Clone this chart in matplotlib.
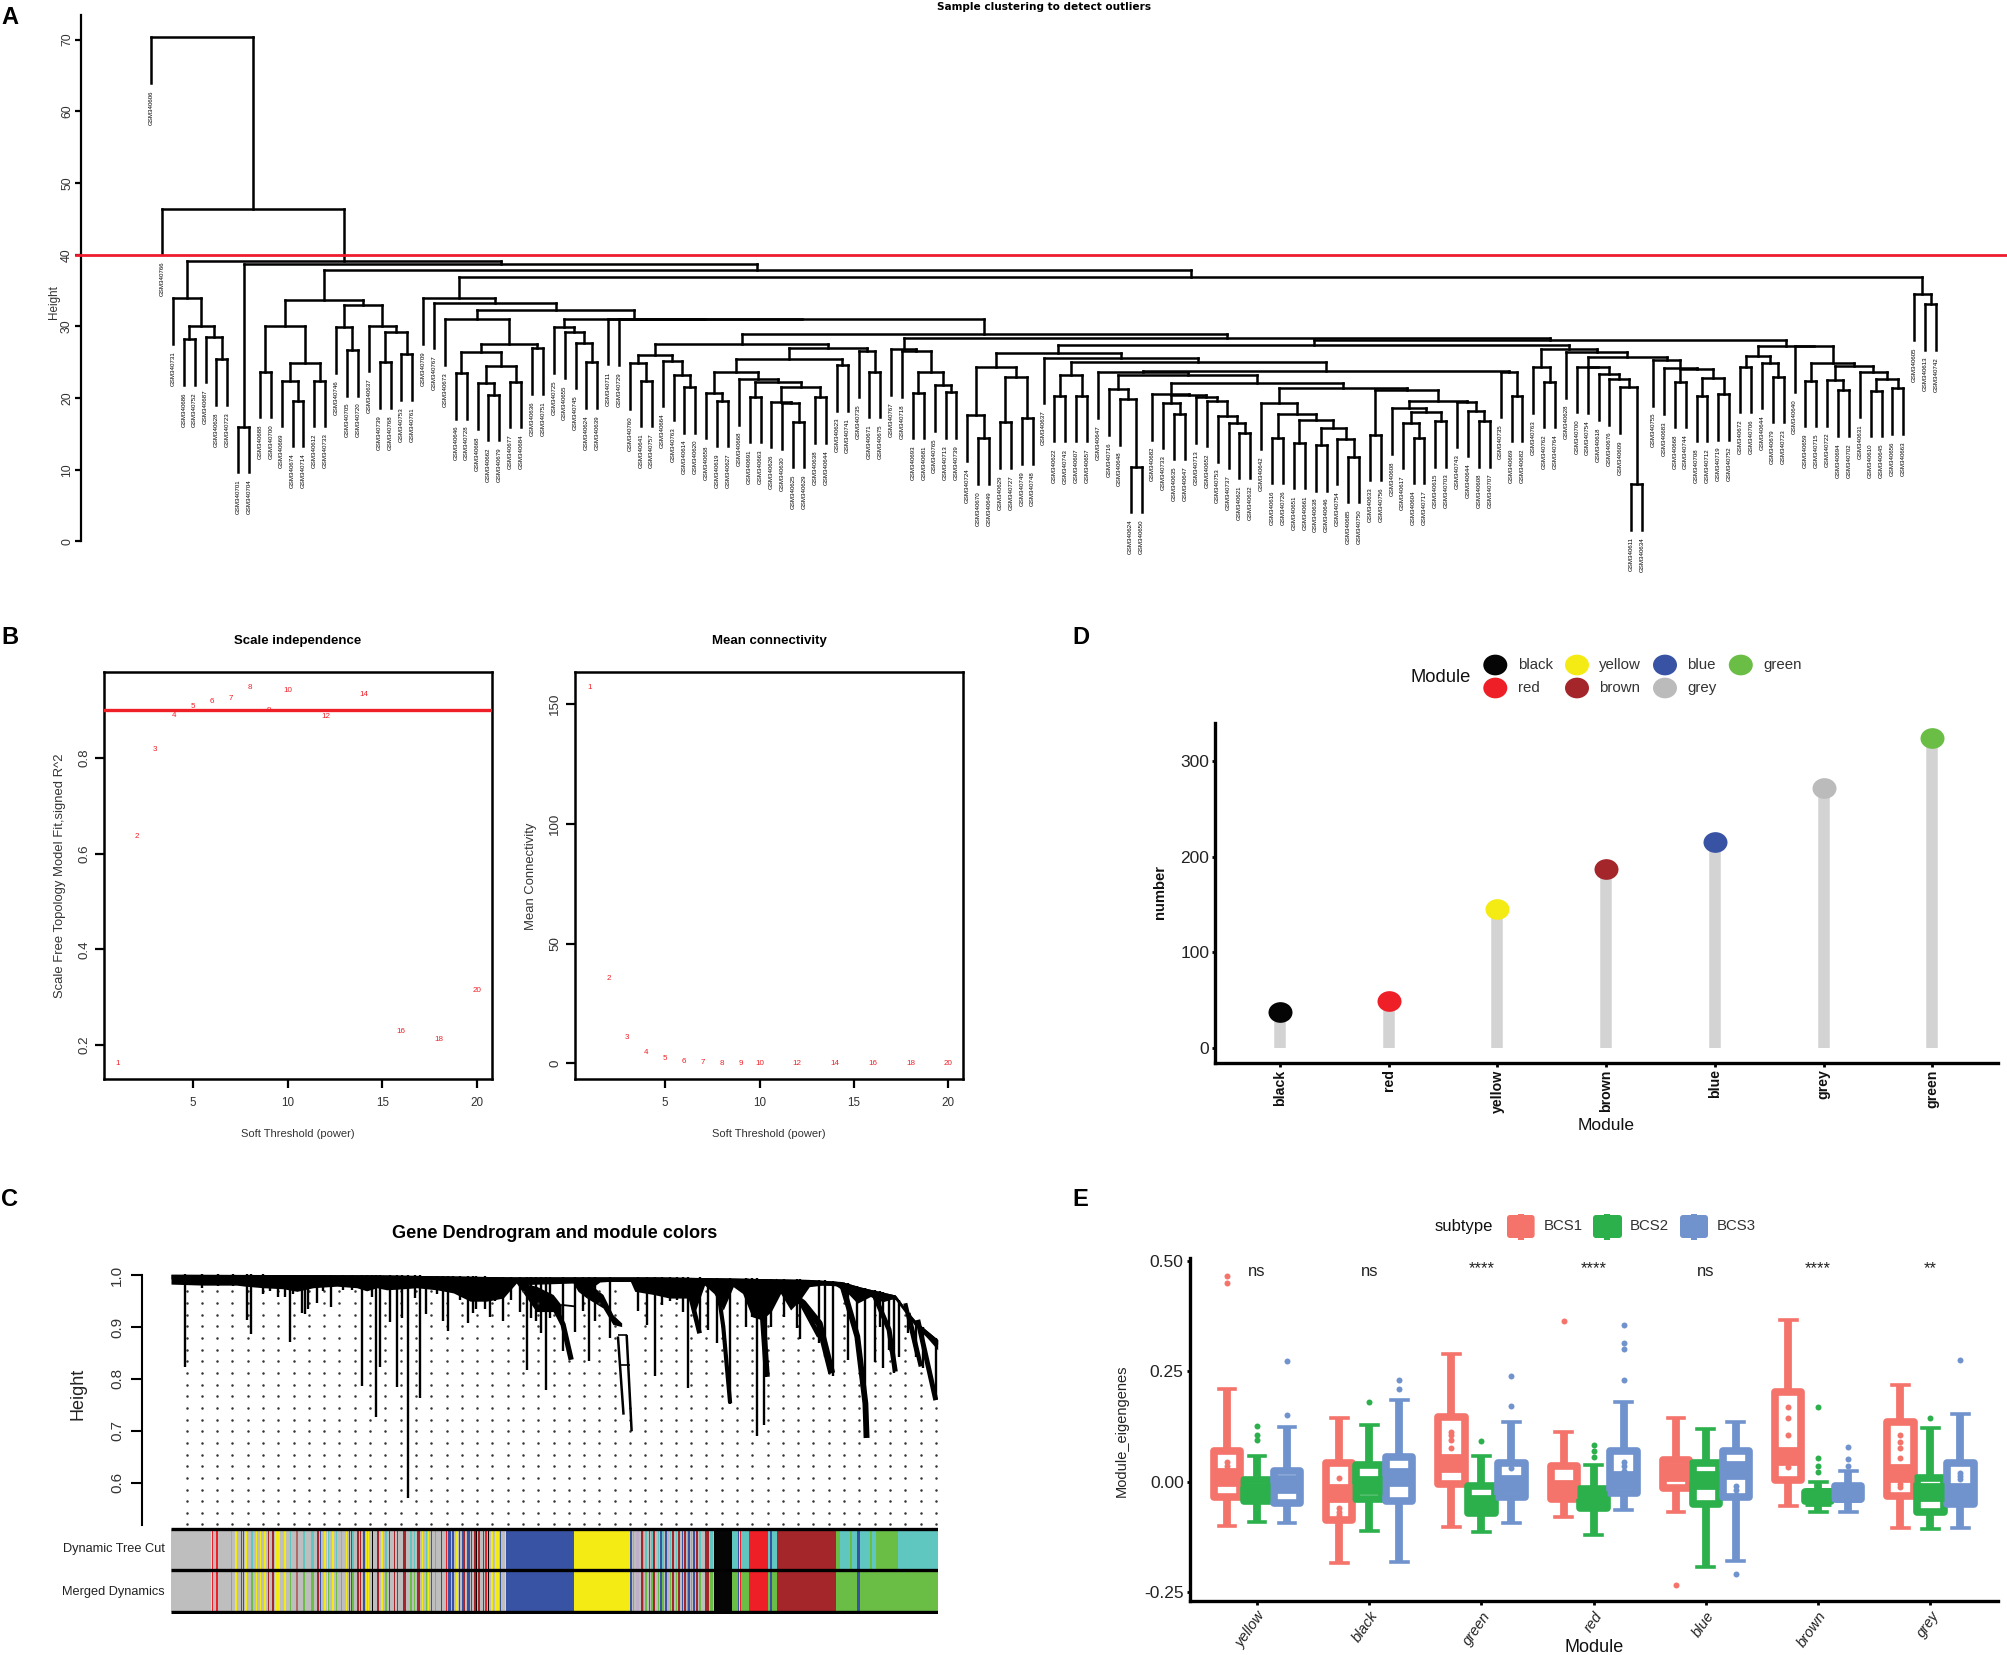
import numpy as np
import matplotlib
matplotlib.use("Agg")
import matplotlib.pyplot as plt
from matplotlib.collections import LineCollection
from matplotlib.markers import MarkerStyle
from matplotlib.patches import Ellipse, FancyBboxPatch, Rectangle
from matplotlib.transforms import Affine2D

plt.rcParams['font.family'] = ['Liberation Sans', 'DejaVu Sans']
W, H = 2008, 1655
fig = plt.figure(figsize=(W / 100, H / 100), dpi=100, facecolor='white')


def axpx(x0, y0, x1, y1, **kw):
    return fig.add_axes([x0 / W, 1 - y1 / H, (x1 - x0) / W, (y1 - y0) / H], **kw)


ov = axpx(0, 0, W, H, zorder=20)
ov.set_xlim(0, W)
ov.set_ylim(H, 0)
ov.axis('off')
ov.patch.set_alpha(0)


def label(x, y, s, **kw):
    kw.setdefault('ha', 'center')
    kw.setdefault('va', 'center')
    ov.text(x, y, s, **kw)


# ---------------------------------------------------------------- Panel A data
c1 = (33.9, 731, (30.05, (28.2, 686, 752), (28.55, 687, (25.4, 628, 723))))
c2 = (16.0, 701, 704)
c3 = (33.75,
      (30.1, (23.7, 688, 700), (24.85, (22.4, 669, (19.6, 674, 714)), (22.4, 612, 733))),
      (33.0, (29.85, 746, (26.7, 705, 720)),
       (30.1, 637, (29.25, (25.0, 739, 768), (26.1, 753, 761)))))
l4a = (31.0, 673, (27.5, (26.4, (23.5, 646, 728),
                          (24.5, (22.05, 668, (20.5, 662, 679)), (22.3, 677, 684))),
                   (26.95, 636, 751)))
nl = (29.85, 725, (29.15, 655, (27.7, 745, (25.0, 624, 639))))
e1a = (26.05, (24.85, 760, (22.4, 641, 757)),
       (25.2, 664, (23.25, 763, (21.55, 614, 620))))
e1b = (27.05,
       (25.5, (23.6, (20.75, 658, (19.6, 619, 627)),
               (22.65, 668, (22.28, (20.2, 691, 663),
                             (21.6, (19.5, 626, (19.25, 630, (16.7, 625, 629))),
                              (20.1, 638, 644))))),
        (24.6, 623, 741)),
       (26.5, 735, (23.7, 671, 675)))
e1 = (27.5, e1a, e1b)
f1 = (26.8, 767, (26.5, 718, (23.7, (20.75, 693, 681),
                              (21.8, 765, (20.8, 713, 739)))))
hla = (24.35, (17.6, 724, (14.4, 670, 649)),
       (23.0, (16.6, 629, 727), (17.2, 749, 748)))
s_node = (21.2, 716, (19.85, 648, (10.4, 624, 650)))
u1 = (20.55, 682, (20.4, (19.35, 733, (17.85, 635, 647)),
                   (20.1, 713, (19.6, 652, (17.5, 753,
                                            (16.55, 737, (15.15, 621, 632)))))))
u2 = (21.45,
      (19.25, 642, (17.8, (14.5, 616, 726),
                    (16.9, (13.8, 651, 661),
                     (15.85, (13.45, 638, 646), (14.3, 754, (11.8, 685, 750)))))),
      (21.1, (14.9, 633, 756),
       (19.6, (18.55, 608, (18.1, (16.55, 617, (14.45, 604, 717)), (16.8, 615, 703))),
        (19.5, 743, (18.25, 644, (16.8, 608, 707))))))
hlc = (23.8, (23.6, 647, (23.2, s_node, (22.05, u1, u2))),
       (23.7, 735, (20.3, 669, 682)))
hlb = (25.65, 637, (25.0, (23.2, (20.3, 622, 743), (20.3, 607, 657)), hlc))
hra = (24.35, 700, (24.3, 754, (23.3, 618, (22.65, 676, (21.5, 609, (8.0, 611, 634))))))
hrb = (25.3, 755, (24.15, 683, (24.0, (22.3, 668, 744),
                                (22.85, (20.3, 708, 712), (20.55, 719, 752)))))
hr = (26.9, (24.3, 763, (22.3, 762, 764)), (26.4, 628, (25.7, hra, hrb)))
h_node = (27.4, (26.3, hla, hlb), hr)
g2 = (27.25, (25.9, (24.35, 672, 706), (24.9, 644, (23.0, 679, 723))),
      (27.2, 640, (24.9, (22.4, 659, 715),
                   (24.45, (22.5, 722, (21.1, 694, 702)),
                    (23.7, 631, (22.65, (21.0, 610, 645), (21.35, 656, 663)))))))
e_node = (29.0, e1, (28.45, f1, (28.1, h_node, g2)))
a_node = (31.1, nl, (31.05, 711, (30.98, 729, e_node)))
c4 = (33.9, 709, (33.3, 767, (32.3, l4a, a_node)))
c5 = (34.45, 605, (33.1, 613, 742))
sample_tree = (70.3, 606, (46.4, 766, (39.17, c1, (38.65, c2, (37.86, c3, (36.84, c4, c5))))))
leaf_hang = 6.35
cut_height = 40

# ---------------------------------------------------------------- Panel B data
powers = [1, 2, 3, 4, 5, 6, 7, 8, 9, 10, 12, 14, 16, 18, 20]
sft_fit = [0.162, 0.637, 0.818, 0.889, 0.907, 0.918, 0.925, 0.947, 0.899, 0.942,
           0.886, 0.932, 0.229, 0.212, 0.314]
mean_k = [156.9, 35.3, 11.0, 4.4, 2.0, 1.0, 0.5, 0.2, 0.15, 0.1, 0.03, 0.02, 0.01, 0.01, 0.0]

# ---------------------------------------------------------------- Panel C data
env_gene = [0, 52, 105, 119, 148, 180, 202, 228, 266, 298, 314, 330, 346, 373, 394, 426, 453, 480,
            506, 533, 554, 565, 645, 653, 667, 675, 688, 736, 744, 774, 800, 832,
            840, 856, 871, 886, 902, 917, 932, 948, 963, 978, 994, 1009, 1024,
            1045, 1065, 1086, 1101, 1122, 1142, 1162, 1183, 1198, 1214, 1230]
env_low = [.983, .981, .981, .979, .976, .974, .969, .976, .979, .976, .970, .976, .972, .974, .976,
           .972, .966, .950, .950, .956, .985, .982, .985, .969, .956, .976, .987, .991, .969, .963,
           .956, .956,
           .927, .981, .965, .933, .978, .965, .920, .914, .930, .965, .933, .952, .978,
           .981, .981, .965, .946, .959, .949, .956, .923, .898, .878, .856]
top_gene = [0, 329, 545, 779, 890, 1024, 1076, 1107, 1162, 1192, 1230]
top_height = [1.002, 1.001, .997, .997, .995, .992, .988, .977, .962, .914, .876]
drop_gene = [22.5, 50, 76, 100, 122, 129, 148, 159, 172, 183, 191, 196, 209.5, 215, 220, 234, 244,
             256, 276, 290, 306, 314, 322, 329, 335, 351, 362, 370, 381, 391, 399, 409, 426, 437,
             445, 453, 463, 477, 485, 490, 503.5, 511.5, 519.5, 533, 546, 560, 571.4, 578, 586,
             593, 601, 608, 629, 648, 661, 671, 680, 704, 749, 763, 777, 787, 800, 811, 821.5,
             829.5, 848, 861, 876, 897, 922, 932, 940, 951, 955, 963, 984, 1004, 1009, 1040, 1050,
             1062, 1086, 1101, 1114, 1129, 1137, 1142, 1152, 1160, 1168, 1183, 1196, 1206, 1227]
drop_height = [.823, .975, .979, .979, .914, .887, .963, .969, .959, .958, .871, .963, .927, .925,
               .934, .947, .969, .938, .972, .972, .786, .969, .959, .727, .823, .910, .784, .918,
               .571, .956, .764, .925, .963, .911, .892, .969, .953, .908, .927, .934, .934, .919,
               .950, .911, .953, .930, .818, .918, .911, .889, .778, .918, .853, .891, .931, .834,
               .911, .879, .932, .905, .805, .943, .950, .953, .930, .782, .888, .895, .869, .752,
               .901, .920, .689, .711, .804, .901, .920, .898, .878, .869, .843, .806, .837, .869,
               .686, .833, .901, .821, .856, .812, .843, .888, .843, .821, .759]
shoulder_gene = [[554, 586, 613, 626], [667, 693, 709, 723]]
shoulder_top = [[.987, .979, .963, .943], [.988, .963, .924, .908]]
shoulder_low = [[.985, .930, .930, .910], [.956, .937, .905, .901]]
run_gene = [[565, 613, 629, 642], [626, 648], [717, 726], [731, 739], [717, 731], [722, 737],
            [810, 835, 848], [876, 886, 897], [922, 948, 956], [968, 1014, 1040, 1060], [994, 1040],
            [1076, 1101, 1114, 1116], [1127, 1152, 1162], [1183, 1203], [1198, 1227], [1178, 1198]]
run_height = [[.976, .943, .905, .837], [.943, .940], [.882, .731], [.885, .699], [.885, .885],
              [.827, .827],
              [.991, .952, .888], [.985, .901, .753], [.991, .946, .804], [.988, .946, .907, .811],
              [.985, .882], [.985, .882, .753, .686], [.965, .895, .814], [.927, .824],
              [.914, .759], [.946, .843]]
run_lw = [3.8, 1.3, 1.8, 1.8, 1.2, 1.2, 3.4, 3.0, 4.2, 5.0, 3.5, 4.2, 3.6, 3.2, 3.6, 3.0]
module_colors = {'g': '#BEBEBE', 'B': '#3953A4', 'y': '#F5EB14', 'R': '#EE1F26', 'r': '#A4262A',
                 'k': '#050505', 'T': '#5FC6C0', 'G': '#6BBE45', 'O': '#F08A24', 'L': '#BFAFC8',
                 'm': '#B06A6A'}
block_start = [0, 538, 646, 737, 871, 900, 928, 958, 973, 1067, 1072.7, 1088.8, 1092.5, 1101, 1105,
               1122, 1124, 1131.5, 1165.8]
block_end = [538, 646, 737, 871, 900, 928, 958, 973, 1067, 1072.7, 1088.8, 1092.5, 1101, 1105, 1122,
             1124, 1131.5, 1165.8, 1230.5]
block_code = ['g', 'B', 'y', 'g', 'k', 'T', 'R', 'T', 'r', 'G', 'T', 'G', 'T', 'B', 'T', 'G', 'T', 'G', 'T']
stripe_gene = [65, 67, 74, 97, 104, 113, 116, 121, 130, 137, 144, 151, 157, 164, 169, 173, 183, 192,
               202, 213, 227, 236, 240, 247, 251, 253, 260, 266, 274, 281, 286, 289, 292, 300, 304,
               309, 314, 317, 323, 327, 332, 339, 345, 351, 358, 363, 375, 385, 391, 397, 403, 410,
               413, 418, 424, 434, 442, 447, 453, 459, 463, 469, 471, 477, 482, 488, 490, 494, 501,
               506, 510, 515, 521, 525, 529, 537,
               738, 742, 746, 749, 755, 758.5, 762, 765, 768, 771, 775, 782, 786, 789.5, 794, 798,
               801, 805.5, 811, 815, 820.5, 824, 828.5, 831, 835, 839, 844, 848, 860, 867,
               910, 912, 914, 963]
stripe_width = [2, 1, 3, 2, 3, 2, 1, 3, 2, 2, 2, 2, 2, 3, 4, 3, 2, 2,
                3, 3, 6, 2, 2, 3, 2, 2, 2, 2, 2, 2, 2, 2, 4, 2, 2,
                3, 2, 1, 2, 1, 3, 3, 4, 2, 2, 1, 4, 2, 2, 4, 2, 2,
                2, 2, 2, 2, 3, 5, 3, 3, 2, 3, 2, 4, 3, 4, 2, 2, 2,
                3, 1.5, 3, 4, 4, 2, 1.5,
                2, 2, 1.5, 5, 3, 2, 2, 1, 2, 3, 2, 2, 2, 2, 2, 3,
                2, 4, 3, 2, 2, 3, 2, 2, 2, 3, 2, 3, 7, 5,
                2, 1, 1.5, 3]
stripe_code = list('yRRTyBByTyyyrryyyT' 'mTTrByyTyTTyrBTrr' 'ByykrryTrrBrTTryT'
                   'yBOrRBByrBrBBrkrr' 'RkyyyBy' 'BTrLrTTyBTrTBTBLTrTrBrTBTBrTrT' 'ByRB')
row_names = ['Dynamic Tree Cut', 'Merged Dynamics']

# ---------------------------------------------------------------- Panel D data
d_modules = ['black', 'red', 'yellow', 'brown', 'blue', 'grey', 'green']
d_counts = [38, 49, 145, 187, 215, 272, 324]
d_colors = ['#050505', '#EE1F26', '#F5EB14', '#A4262A', '#3953A4', '#BBBBBB', '#6BBE45']

# ---------------------------------------------------------------- Panel E data
e_modules = ['yellow', 'black', 'green', 'red', 'blue', 'brown', 'grey']
e_subtypes = ['BCS1', 'BCS2', 'BCS3']
e_colors = ['#F4736B', '#2BB04B', '#7093CE']
e_low = [[-.1, -.091, -.093], [-.184, -.112, -.182], [-.103, -.115, -.094], [-.08, -.122, -.065],
         [-.069, -.193, -.18], [-.056, -.069, -.069], [-.104, -.108, -.104]]
e_q1 = [[-.034, -.045, -.048], [-.087, -.039, -.044], [-.005, -.072, -.036], [-.039, -.06, -.025],
        [-.015, -.05, -.036], [.004, -.045, -.04], [-.032, -.069, -.05]]
e_med = [[.0106, -.023, -.0045], [-.027, -.008, .0105], [.041, -.05, -.005], [-.016, -.042, .003],
         [.022, .003, .026], [.057, -.035, -.026], [.02, -.023, -.023]]
e_q3 = [[.0687, .004, .023], [.042, .0385, .055], [.146, -.0106, .042], [.035, -.0166, .0687],
        [.049, .042, .07], [.202, -.024, -.0106], [.134, .008, .042]]
e_high = [[.209, .058, .124], [.145, .128, .184], [.288, .057, .135], [.112, .037, .18],
          [.143, .118, .135], [.365, 0.0, .024], [.219, .121, .152]]
e_points = [[[.465, .45, .045, .035], [.125, .105, .095], [.15, .273]],
            [[.007, -.06, -.07, -.075], [.179], [.229, .209]],
            [[.112, .105, .095, .075], [.092], [.171, .238, .03]],
            [[.364], [.082, .07, .056], [.229, .30, .314, .354, .045, .035, .025]],
            [[-.234], [], [-.21, -.01, -.02, -.03]],
            [[.168, .143, .105, .033], [.168, .054, .035, .022], [.078, .051, .035]],
            [[.105, .09, .075, .054, -.005, -.012], [.144], [.275, .02, .012, .005]]]
e_signif = ['ns', 'ns', '****', '****', 'ns', '****', '**']


# ---------------------------------------------------------------- Panel A
def count_leaves(n):
    return 1 if not isinstance(n, tuple) else count_leaves(n[1]) + count_leaves(n[2])


n_leaves = count_leaves(sample_tree)
a_first, a_last = 151.1, 1936.0
a_step = (a_last - a_first) / (n_leaves - 1)
axA = axpx(81, 15, W, 541.5)
axA.set_xlim((81 - a_first) / a_step, (W - a_first) / a_step)
axA.set_ylim(0, (541.5 - 15) / 7.17)
segs = []
leaves = []


def walk(node, parent_h):
    if not isinstance(node, tuple):
        x = len(leaves)
        y = parent_h - leaf_hang
        leaves.append((x, y, node))
        return x, y
    h, left, right = node
    xl, yl = walk(left, h)
    xr, yr = walk(right, h)
    segs.append([(xl, h), (xr, h)])
    segs.append([(xl, h), (xl, yl)])
    segs.append([(xr, h), (xr, yr)])
    return (xl + xr) / 2, h


walk(sample_tree, sample_tree[0])
axA.add_collection(LineCollection(segs, colors='black', linewidths=1.8, clip_on=False,
                                  capstyle='projecting'))
for x, y, name in leaves:
    axA.text(x, y - 1.0, f'GSM340{name}', rotation=90, ha='center', va='top', fontsize=4.4,
             clip_on=False, color='black')
axA.plot([axA.get_xlim()[0] - 0.5, axA.get_xlim()[1]], [cut_height, cut_height], color='#EE1C2E',
         lw=2.0, clip_on=False, zorder=5)
for s in ['top', 'right', 'bottom']:
    axA.spines[s].set_visible(False)
axA.spines['left'].set_linewidth(1.6)
axA.set_xticks([])
axA.set_yticks(range(0, 71, 10))
axA.tick_params(axis='y', length=4.2, width=1.6, pad=1.5, labelcolor='#333333')
for t in axA.get_yticklabels():
    t.set(rotation=90, va='center', fontsize=8.8, family=['Liberation Sans Narrow', 'Liberation Sans'])
label(54, 301.7, 'Height', rotation=90, fontsize=8.4, color='#333333',
      family=['Liberation Sans Narrow', 'Liberation Sans'])
label(1044, 7.5, 'Sample clustering to detect outliers', fontsize=7.55, weight='bold', family='DejaVu Sans')

# ---------------------------------------------------------------- Panel B
b_axes = []
for (x0, x1, xl, yl, vals, ylab, ylx, ytick, title, xc) in [
    (104, 491.7, (0.285, 20.78), (0.130, 0.979), sft_fit,
     'Scale Free Topology Model Fit,signed R^2', 60, [0.2, 0.4, 0.6, 0.8], 'Scale independence', 298),
    (575.3, 963, (0.24, 20.78), (-6.34, 163.1), mean_k, 'Mean Connectivity', 531,
     [0, 50, 100, 150], 'Mean connectivity', 769),
]:
    ax = axpx(x0, 672.3, x1, 1078.7)
    b_axes.append(ax)
    ax.set_xlim(*xl)
    ax.set_ylim(*yl)
    for s in ax.spines.values():
        s.set_linewidth(1.8)
    for p, v in zip(powers, vals):
        ax.text(p, v, str(p), color='#EE1F26', fontsize=5.8, ha='center', va='center')
    ax.set_xticks([5, 10, 15, 20])
    ax.set_yticks(ytick)
    ax.set_yticklabels([str(v) for v in ytick], rotation=90, va='center')
    ax.tick_params(axis='both', length=6.5, width=1.6, labelsize=8.4, labelcolor='#333333')
    ax.tick_params(axis='x', pad=6.5)
    ax.tick_params(axis='y', pad=3.5, labelsize=9.6)
    label(ylx, 876, ylab, rotation=90, fontsize=9.4, color='#333333')
    label(xc, 640.7, title, fontsize=9.5, weight='bold')
    label(xc, 1134, 'Soft Threshold (power)', fontsize=8, color='#333333')
b_axes[0].axhline(0.90, color='#EE1F26', lw=2.4, zorder=3)

# ---------------------------------------------------------------- Panel C
axC = axpx(142, 1268, 938, 1525)
gene_scale = (938 - 171) / 1230.5
axC.set_xlim(-(171 - 142) / gene_scale, 1230.5)
axC.set_ylim(0.518, 1.0 + (1275.3 - 1268) / 518)
for s in ['top', 'right', 'bottom']:
    axC.spines[s].set_visible(False)
axC.spines['left'].set_bounds(0.518, 1.0)
axC.spines['left'].set_linewidth(1.5)
axC.set_xticks([])
axC.set_yticks([0.6, 0.7, 0.8, 0.9, 1.0])
axC.set_yticklabels(['0.6', '0.7', '0.8', '0.9', '1.0'], rotation=90, va='center')
axC.tick_params(axis='y', length=8, width=1.5, labelsize=11, pad=5, labelcolor='#333333')

axC.fill_between(env_gene, env_low, np.interp(env_gene, top_gene, top_height), color='black', lw=0)
axC.fill_between(top_gene, np.array(top_height) - 0.009, top_height, color='black', lw=0)
for sg, st_, sl in zip(shoulder_gene, shoulder_top, shoulder_low):
    axC.fill_between(sg, sl, st_, color='black', lw=0)
axC.vlines(drop_gene, drop_height, np.interp(drop_gene, top_gene, top_height), color='black', lw=1.7)
for rg, rh, rw in zip(run_gene, run_height, run_lw):
    axC.plot(rg, rh, color='black', lw=rw, solid_capstyle='butt')

guide_x = np.linspace(25, 1227, 50)
guide_y = np.arange(0.519, 0.97, 0.0225)
gx, gy = np.meshgrid(guide_x, guide_y)
cap = np.interp(gx, env_gene, env_low)
for rg, rh in zip(run_gene, run_height):
    inside = (gx >= rg[0]) & (gx <= rg[-1])
    cap = np.where(inside, np.minimum(cap, np.interp(gx, rg, rh)), cap)
mask = gy < cap - 0.004
axC.plot(gx[mask], gy[mask], ls='none', marker='o', ms=1.8, color='#333333', mew=0, zorder=1)
label(78, 1394, 'Height', rotation=90, fontsize=13, color='#222222')
label(555, 1234, 'Gene Dendrogram and module colors', fontsize=13.1, weight='bold')

axS = axpx(171, 1526.7, 938, 1614)
axS.set_xlim(0, 1230.5)
axS.set_ylim(-0.06, 2.06)
axS.axis('off')
for row, swap in [(1, {}), (0, {'T': 'G'})]:
    for a, b, c in zip(block_start, block_end, block_code):
        axS.bar(a, 1, width=b - a, bottom=row, align='edge', lw=0,
                color=module_colors[swap.get(c, c)])
    for g, w, c in zip(stripe_gene, stripe_width, stripe_code):
        axS.bar(g, 1, width=w, bottom=row, align='center', lw=0,
                color=module_colors[swap.get(c, c)])
axS.hlines([0, 1, 2], 0, 1230.5, color='black', lw=2.4)
label(164.5, 1548.7, row_names[0], ha='right', fontsize=9.2, color='#222222')
label(164.5, 1592, row_names[1], ha='right', fontsize=9.2, color='#222222')

# ---------------------------------------------------------------- Panel D
axD = axpx(1215.4, 723.3, 1997.7, 1063.2)
axD.set_xlim(-0.594, 6.6)
axD.set_ylim(-15.9, 339.7)
xpos = np.arange(len(d_modules))
axD.vlines(xpos, 0, d_counts, color='#D3D3D3', lw=8.3, zorder=1)
ell = MarkerStyle('o', transform=Affine2D().scale(1.16, 1))
for x, v, c in zip(xpos, d_counts, d_colors):
    axD.plot([x], [v], marker=ell, ms=14.9, color=c, mew=0, zorder=3, ls='none')
for s in ['top', 'right']:
    axD.spines[s].set_visible(False)
for s in ['left', 'bottom']:
    axD.spines[s].set_linewidth(2.4)
axD.set_xticks(xpos)
axD.set_xticklabels(d_modules, rotation=90, fontsize=10.2, weight='bold', color='#111111')
axD.set_yticks([0, 100, 200, 300])
axD.tick_params(axis='y', length=2.5, width=2, labelsize=12.5, pad=2, labelcolor='#222222')
axD.tick_params(axis='x', length=3, width=2, pad=1.5)
label(1160, 892, 'number', rotation=90, fontsize=10.6, weight='bold', color='#111111')
label(1606.5, 1125, 'Module', fontsize=12.5, color='#111111')
label(1441, 677, 'Module', fontsize=13.2, color='#111111')
for col, (px, names) in enumerate([(1495.3, ['black', 'red']), (1577, ['yellow', 'brown']),
                                   (1665, ['blue', 'grey']), (1740.8, ['green'])]):
    for row, n in enumerate(names):
        py = 665 + 23 * row
        ov.add_patch(Ellipse((px, py), 24, 20.7, color=d_colors[d_modules.index(n)], lw=0))
        label(px + 22.4, py, n, ha='left', fontsize=10.8, color='#333333')

# ---------------------------------------------------------------- Panel E
axE = axpx(1190, 1258.3, 1997.7, 1600.7)
axE.set_xlim(-0.597, 6.6)
axE.set_ylim(-0.2697, 0.5054)
offset = 0.267
zo = 2
for i, m in enumerate(e_modules):
    for j, c in enumerate(e_colors):
        st = dict(med=e_med[i][j], q1=e_q1[i][j], q3=e_q3[i][j], whislo=e_low[i][j],
                  whishi=e_high[i][j], fliers=e_points[i][j])
        axE.bxp([st], positions=[i + (j - 1) * offset], widths=0.235, capwidths=0.15,
                patch_artist=True, manage_ticks=False, zorder=zo,
                boxprops=dict(facecolor='white', edgecolor=c, linewidth=5.5, joinstyle='round'),
                medianprops=dict(color=c, linewidth=13.5, solid_capstyle='butt'),
                whiskerprops=dict(color=c, linewidth=5.6, solid_capstyle='butt'),
                capprops=dict(color=c, linewidth=2.6),
                flierprops=dict(marker='o', markerfacecolor=c, markeredgecolor=c, markersize=4.3,
                                linestyle='none', mew=0))
        zo += 0.01
for i, s in enumerate(e_signif):
    axE.text(i, 0.475 if s == 'ns' else 0.482, s, ha='center', va='center', fontsize=12, color='#222222')
for s in ['top', 'right']:
    axE.spines[s].set_visible(False)
for s in ['left', 'bottom']:
    axE.spines[s].set_linewidth(2.4)
axE.set_xticks(range(len(e_modules)))
axE.set_xticklabels(e_modules, rotation=55, ha='right', rotation_mode='anchor', fontsize=10.5,
                    style='italic', color='#222222')
axE.set_yticks([-0.25, 0, 0.25, 0.5])
axE.set_yticklabels(['-0.25', '0.00', '0.25', '0.50'])
axE.tick_params(axis='y', length=2.5, width=2, labelsize=12.5, pad=2, labelcolor='#222222')
axE.tick_params(axis='x', length=3, width=2, pad=3)
label(1122, 1430.5, 'Module_eigengenes', rotation=90, fontsize=10.5, color='#222222')
label(1594.5, 1648, 'Module', fontsize=13, color='#111111')
label(1463.5, 1226, 'subtype', fontsize=12, color='#111111')
for (kx0, kx1, tx, name, c) in zip([1507, 1593, 1680], [1534.6, 1622, 1708], [1543.7, 1630, 1717],
                                   e_subtypes, e_colors):
    ov.add_patch(FancyBboxPatch((kx0 + 3, 1218), kx1 - kx0 - 6, 17, boxstyle='round,pad=3', color=c, lw=0))
    ov.add_patch(Rectangle(((kx0 + kx1) / 2 - 3, 1213.5), 6, 26, color=c, lw=0))
    label(tx, 1226, name, ha='left', fontsize=10.8, color='#333333')

# ---------------------------------------------------------------- Panel letters
for s, x, y in [('A', 10, 17), ('B', 10, 638), ('C', 10, 1199), ('D', 1081, 638), ('E', 1080, 1199)]:
    label(x, y, s, fontsize=17, weight='bold')

fig.savefig('out.png', dpi=100)
